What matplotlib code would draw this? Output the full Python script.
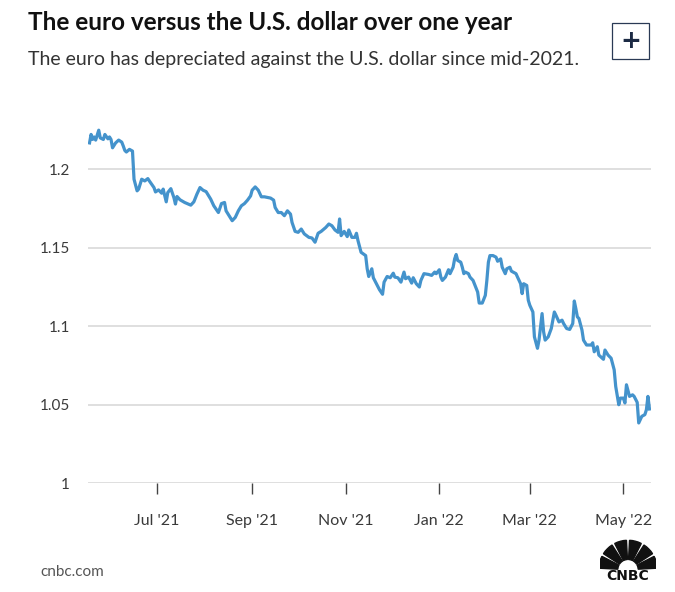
import numpy as np
import pandas as pd
import matplotlib
matplotlib.use("Agg")
import matplotlib.pyplot as plt
import matplotlib.dates as mdates
from matplotlib.patches import Wedge, Rectangle

# EUR/USD, lectura del gráfico (fecha, valor)
fechas = [
    "2021-05-18", "2021-05-19", "2021-05-20", "2021-05-21", "2021-05-22", "2021-05-24", "2021-05-25",
    "2021-05-27", "2021-05-28", "2021-05-30", "2021-05-31", "2021-06-01", "2021-06-02", "2021-06-04",
    "2021-06-06", "2021-06-08", "2021-06-09", "2021-06-10", "2021-06-11", "2021-06-13", "2021-06-15",
    "2021-06-16", "2021-06-18", "2021-06-19", "2021-06-21", "2021-06-23", "2021-06-25", "2021-06-26",
    "2021-06-29", "2021-06-30", "2021-07-02", "2021-07-04", "2021-07-05", "2021-07-07", "2021-07-08",
    "2021-07-10", "2021-07-12", "2021-07-13", "2021-07-14", "2021-07-16", "2021-07-19", "2021-07-23",
    "2021-07-25", "2021-07-27", "2021-07-29", "2021-07-31", "2021-08-02", "2021-08-05", "2021-08-07",
    "2021-08-10", "2021-08-12", "2021-08-14", "2021-08-15", "2021-08-19", "2021-08-21", "2021-08-23",
    "2021-08-25", "2021-08-27", "2021-08-29", "2021-08-31", "2021-09-01", "2021-09-03", "2021-09-05",
    "2021-09-07", "2021-09-09", "2021-09-13", "2021-09-15", "2021-09-16", "2021-09-18", "2021-09-20",
    "2021-09-22", "2021-09-24", "2021-09-26", "2021-09-27", "2021-09-29", "2021-10-01", "2021-10-03",
    "2021-10-05", "2021-10-08", "2021-10-10", "2021-10-12", "2021-10-14", "2021-10-16", "2021-10-19",
    "2021-10-21", "2021-10-23", "2021-10-25", "2021-10-27", "2021-10-28", "2021-10-29", "2021-10-31",
    "2021-11-02", "2021-11-03", "2021-11-05", "2021-11-07", "2021-11-08", "2021-11-09", "2021-11-11",
    "2021-11-14", "2021-11-15", "2021-11-16", "2021-11-18", "2021-11-19", "2021-11-21", "2021-11-23",
    "2021-11-25", "2021-11-26", "2021-11-28", "2021-11-30", "2021-12-02", "2021-12-03", "2021-12-05",
    "2021-12-07", "2021-12-09", "2021-12-10", "2021-12-12", "2021-12-14", "2021-12-15", "2021-12-17",
    "2021-12-19", "2021-12-20", "2021-12-22", "2021-12-25", "2021-12-27", "2021-12-29", "2021-12-30",
    "2022-01-01", "2022-01-02", "2022-01-03", "2022-01-05", "2022-01-07", "2022-01-08", "2022-01-10",
    "2022-01-11", "2022-01-12", "2022-01-13", "2022-01-15", "2022-01-16", "2022-01-17", "2022-01-18",
    "2022-01-20", "2022-01-21", "2022-01-23", "2022-01-26", "2022-01-27", "2022-01-29", "2022-01-31",
    "2022-02-01", "2022-02-02", "2022-02-03", "2022-02-05", "2022-02-07", "2022-02-08", "2022-02-10",
    "2022-02-11", "2022-02-13", "2022-02-14", "2022-02-16", "2022-02-17", "2022-02-20", "2022-02-21",
    "2022-02-23", "2022-02-24", "2022-02-25", "2022-02-27", "2022-02-28", "2022-03-01", "2022-03-03",
    "2022-03-04", "2022-03-06", "2022-03-07", "2022-03-09", "2022-03-10", "2022-03-11", "2022-03-13",
    "2022-03-15", "2022-03-17", "2022-03-18", "2022-03-20", "2022-03-22", "2022-03-23", "2022-03-25",
    "2022-03-27", "2022-03-29", "2022-03-30", "2022-03-31", "2022-04-01", "2022-04-02", "2022-04-04",
    "2022-04-05", "2022-04-07", "2022-04-10", "2022-04-11", "2022-04-12", "2022-04-14", "2022-04-15",
    "2022-04-18", "2022-04-19", "2022-04-21", "2022-04-23", "2022-04-25", "2022-04-26", "2022-04-28",
    "2022-04-29", "2022-05-01", "2022-05-02", "2022-05-03", "2022-05-05", "2022-05-07", "2022-05-08",
    "2022-05-10", "2022-05-11", "2022-05-13", "2022-05-15", "2022-05-16", "2022-05-17", "2022-05-18",
]
valores = [
    1.2166, 1.2220, 1.2188, 1.2204, 1.2184, 1.2247, 1.2198,
    1.2188, 1.2220, 1.2192, 1.2204, 1.2188, 1.2135, 1.2166,
    1.2184, 1.2171, 1.2146, 1.2118, 1.2108, 1.2125, 1.2114,
    1.1935, 1.1861, 1.1872, 1.1935, 1.1924, 1.1939, 1.1924,
    1.1882, 1.1854, 1.1867, 1.1846, 1.1872, 1.1791, 1.1850,
    1.1875, 1.1818, 1.1777, 1.1825, 1.1804, 1.1787, 1.1770,
    1.1791, 1.1840, 1.1882, 1.1865, 1.1856, 1.1808, 1.1766,
    1.1723, 1.1780, 1.1787, 1.1734, 1.1671, 1.1692, 1.1734,
    1.1766, 1.1780, 1.1802, 1.1829, 1.1865, 1.1886, 1.1865,
    1.1823, 1.1823, 1.1815, 1.1802, 1.1755, 1.1723, 1.1723,
    1.1703, 1.1734, 1.1713, 1.1660, 1.1603, 1.1597, 1.1618,
    1.1587, 1.1565, 1.1561, 1.1534, 1.1591, 1.1603, 1.1628,
    1.1650, 1.1639, 1.1612, 1.1597, 1.1682, 1.1576, 1.1603,
    1.1570, 1.1612, 1.1565, 1.1565, 1.1591, 1.1544, 1.1470,
    1.1449, 1.1365, 1.1316, 1.1365, 1.1308, 1.1270, 1.1232,
    1.1203, 1.1280, 1.1316, 1.1308, 1.1337, 1.1312, 1.1308,
    1.1280, 1.1344, 1.1302, 1.1312, 1.1274, 1.1308, 1.1270,
    1.1249, 1.1291, 1.1334, 1.1329, 1.1323, 1.1344, 1.1334,
    1.1359, 1.1312, 1.1291, 1.1312, 1.1359, 1.1334, 1.1375,
    1.1428, 1.1456, 1.1418, 1.1407, 1.1375, 1.1334, 1.1344,
    1.1334, 1.1312, 1.1291, 1.1217, 1.1147, 1.1147, 1.1196,
    1.1291, 1.1407, 1.1449, 1.1449, 1.1439, 1.1413, 1.1428,
    1.1375, 1.1334, 1.1365, 1.1375, 1.1350, 1.1334, 1.1312,
    1.1270, 1.1207, 1.1270, 1.1259, 1.1165, 1.1133, 1.1090,
    1.0932, 1.0859, 1.0911, 1.1080, 1.0964, 1.0911, 1.0932,
    1.0985, 1.1090, 1.1070, 1.1027, 1.1038, 1.1017, 1.0985,
    1.0979, 1.1017, 1.1160, 1.1112, 1.1059, 1.1049, 1.0975,
    1.0911, 1.0880, 1.0880, 1.0894, 1.0837, 1.0869, 1.0816,
    1.0789, 1.0848, 1.0816, 1.0796, 1.0722, 1.0616, 1.0500,
    1.0542, 1.0542, 1.0511, 1.0627, 1.0553, 1.0563, 1.0553,
    1.0515, 1.0384, 1.0426, 1.0437, 1.0468, 1.0553, 1.0473,
]

y_ticks = [1, 1.05, 1.1, 1.15, 1.2]
y_labels = ["1", "1.05", "1.1", "1.15", "1.2"]
x_ticks = ["2021-07-01", "2021-09-01", "2021-11-01", "2022-01-01", "2022-03-01", "2022-05-01"]
x_labels = ["Jul '21", "Sep '21", "Nov '21", "Jan '22", "Mar '22", "May '22"]

fechas = pd.to_datetime(fechas)

fig = plt.figure(figsize=(6.75, 5.92), dpi=100)
fig.patch.set_facecolor("white")

ax = fig.add_axes([88 / 675, 1 - 483.3 / 592, (651 - 88) / 675, (483.3 - 114) / 592])
ax.plot(fechas, valores, color="#4493cc", linewidth=2.3, solid_joinstyle="round")

ax.set_ylim(1.0, 1.235)
ax.set_xlim(pd.Timestamp("2021-05-17"), pd.Timestamp("2022-05-19"))

for s in ax.spines.values():
    s.set_visible(False)

ax.set_yticks(y_ticks)
ax.set_yticklabels(y_labels, fontsize=11, color="#3a3a3a", family="Lato")
ax.tick_params(axis="y", length=0, pad=13)
ax.grid(axis="y", color="#dcdcdc", linewidth=1.3)
ax.set_axisbelow(True)

ax.set_xticks(pd.to_datetime(x_ticks))
ax.set_xticklabels(x_labels, fontsize=11.5, color="#3a3a3a", family="Lato")
ax.tick_params(axis="x", length=8, width=1, color="#444444", pad=14)

# Títulos
fig.text(28 / 675, 1 - 22 / 592, "The euro versus the U.S. dollar over one year",
         fontsize=17.5, fontweight="bold", family="Lato", color="#111111", va="center")
fig.text(28 / 675, 1 - 60 / 592, "The euro has depreciated against the U.S. dollar since mid-2021.",
         fontsize=14, family="Lato", color="#333333", va="center")

# Botón "+"
fig.patches.append(Rectangle((612 / 675, 1 - 59 / 592), 37 / 675, 36 / 592, transform=fig.transFigure,
                             fill=False, edgecolor="#2a3a55", linewidth=0.9))
fig.text(630.5 / 675, 1 - 41 / 592, "+", fontsize=18, fontweight="bold", color="#1c2a44",
         ha="center", va="center", family="DejaVu Sans")

# Pie
fig.text(40 / 675, 1 - 572 / 592, "cnbc.com", fontsize=11, color="#555555", family="Lato", va="center")

# Logo CNBC (pavo real simplificado)
ax_logo = fig.add_axes([600 / 675, 1 - 571 / 592, 56 / 675, 32 / 592])
ax_logo.set_xlim(-1.1, 1.1)
ax_logo.set_ylim(0, 1.25)
ax_logo.axis("off")
for a in [0, 30, 60, 90, 120, 150]:
    ax_logo.add_patch(Wedge((0, 0.05), 1.15, a + 3, a + 27, width=0.75, color="#111111"))
fig.text(628 / 675, 1 - 576 / 592, "CNBC", fontsize=10, fontweight="heavy", family="DejaVu Sans",
         color="#111111", ha="center", va="center")

fig.savefig("out.png", dpi=100)
